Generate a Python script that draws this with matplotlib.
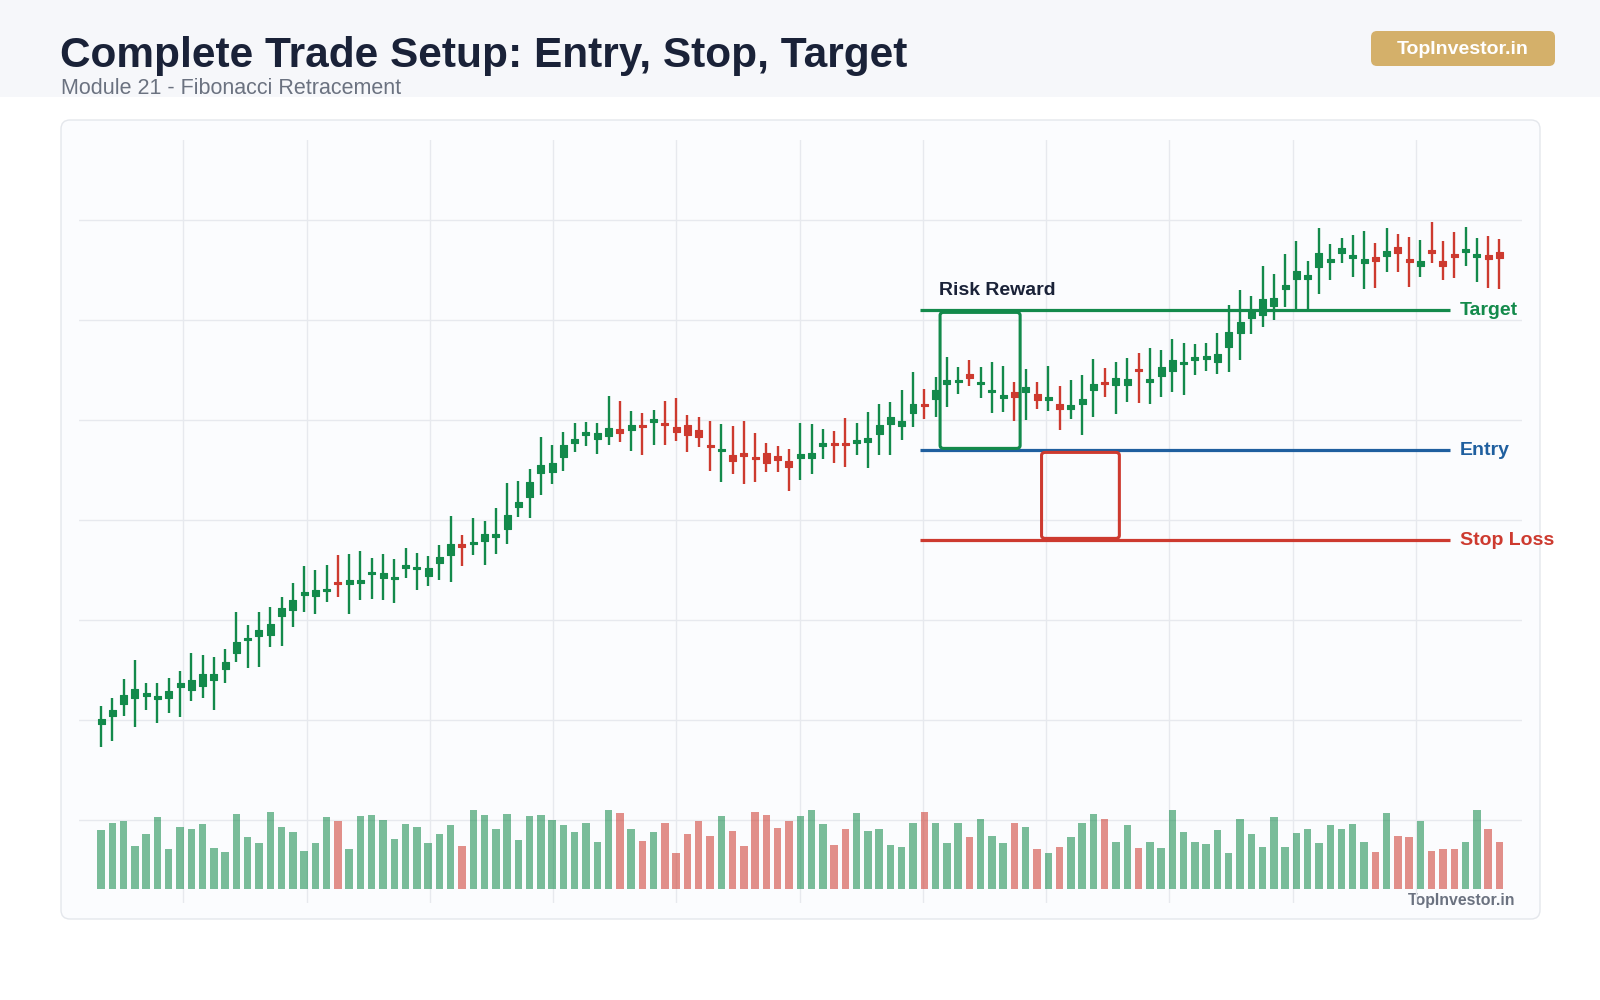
import matplotlib
matplotlib.use("Agg")
import matplotlib.pyplot as plt
from matplotlib.patches import FancyBboxPatch, Rectangle
import numpy as np

plt.rcParams['font.family'] = ['Liberation Sans', 'DejaVu Sans']

# ---------------- data ----------------
opens = [149.6, 150.4, 151.6, 152.2, 152.4, 152.15, 152.2, 153.3, 153.0, 153.4,
         154.0, 155.1, 156.7, 158.0, 158.4, 158.5, 160.4, 161.0, 162.5, 162.4,
         162.9, 163.75, 163.6, 163.7, 164.6, 164.2, 164.1, 165.2, 165.1, 164.4,
         165.7, 166.5, 167.45, 167.6, 167.9, 168.35, 169.1, 171.3, 172.3, 174.7,
         174.8, 176.3, 177.7, 178.5, 178.1, 178.4, 179.1, 179.0, 179.4, 179.85,
         179.6, 179.3, 179.5, 179.0, 177.45, 176.9, 176.5, 176.7, 176.2, 176.7,
         176.4, 175.9, 176.2, 176.2, 177.45, 177.6, 177.6, 177.7, 177.8, 178.6,
         179.6, 179.4, 180.7, 181.5, 182.1, 183.6, 183.8, 184.6, 183.6, 182.8,
         182.25, 182.8, 182.8, 182.6, 182.05, 181.6, 181.1, 181.6, 183.0, 183.7,
         183.5, 183.5, 185.0, 183.85, 184.45, 184.9, 185.6, 186.05, 186.1, 185.8,
         187.3, 188.7, 190.2, 190.5, 191.4, 193.1, 194.1, 194.1, 195.3, 195.85,
         196.7, 196.25, 195.7, 196.3, 196.4, 197.3, 195.9, 195.4, 196.8, 195.9,
         196.4, 196.85, 196.35, 196.5, 196.8]
highs = [151.4, 152.2, 154.1, 156.0, 153.7, 153.7, 154.2, 154.9, 156.7, 156.5,
         156.3, 157.1, 160.8, 159.5, 160.8, 161.3, 162.3, 163.7, 165.4, 165.0,
         165.5, 166.5, 166.6, 166.9, 166.2, 166.6, 166.1, 167.2, 166.7, 166.4,
         167.5, 170.4, 168.5, 170.2, 169.9, 171.2, 173.7, 173.9, 175.1, 178.3,
         177.5, 178.8, 179.7, 179.8, 179.7, 182.4, 181.9, 180.9, 180.7, 181.0,
         181.9, 182.2, 180.5, 180.3, 179.9, 179.6, 179.4, 179.9, 178.7, 177.7,
         177.4, 177.1, 179.7, 179.6, 179.1, 178.9, 180.2, 179.7, 180.8, 181.6,
         181.8, 183.0, 184.8, 183.1, 184.3, 186.3, 185.3, 186.0, 185.3, 185.8,
         185.4, 183.8, 185.1, 183.8, 185.4, 183.4, 184.0, 184.5, 186.1, 185.2,
         185.8, 186.2, 186.7, 187.2, 187.0, 188.1, 187.7, 187.6, 187.7, 188.7,
         191.5, 193.0, 192.4, 195.4, 194.6, 196.6, 197.9, 195.9, 199.2, 197.6,
         198.2, 198.5, 198.9, 197.7, 199.2, 198.6, 198.3, 198.0, 199.8, 197.9,
         198.8, 199.3, 198.2, 198.4, 198.1]
lows = [147.3, 147.9, 150.4, 149.3, 151.0, 149.7, 150.7, 150.3, 151.9, 152.2,
        151.0, 153.7, 155.8, 155.2, 155.3, 157.3, 157.4, 159.3, 160.8, 160.6,
        161.8, 162.3, 160.6, 162.0, 162.1, 162.0, 161.7, 164.2, 163.0, 163.4,
        164.0, 163.8, 165.4, 166.5, 165.5, 166.6, 167.6, 170.3, 170.2, 172.5,
        173.6, 174.9, 176.8, 177.4, 176.6, 177.5, 177.8, 176.9, 176.5, 177.5,
        177.5, 177.9, 176.8, 177.3, 174.9, 173.8, 174.6, 173.6, 173.8, 174.8,
        174.8, 172.9, 174.0, 174.6, 176.1, 175.7, 175.3, 176.5, 175.2, 176.5,
        176.5, 178.0, 179.3, 180.1, 180.3, 181.3, 182.6, 183.4, 182.2, 180.7,
        180.8, 179.9, 180.0, 181.1, 180.9, 179.0, 180.1, 178.5, 180.3, 182.3,
        180.6, 181.8, 181.7, 181.6, 182.3, 182.8, 182.5, 184.5, 184.9, 184.6,
        184.8, 186.0, 188.6, 189.3, 190.0, 191.3, 191.1, 191.1, 192.6, 194.0,
        195.7, 194.3, 193.1, 193.2, 194.8, 194.8, 193.3, 194.3, 195.7, 194.0,
        194.2, 195.4, 193.8, 193.2, 193.1]
closes = [150.1, 151.0, 152.5, 153.1, 152.7, 152.2, 152.9, 153.7, 154.0, 154.6,
          154.6, 155.8, 157.8, 158.1, 159.0, 159.6, 161.2, 162.0, 162.8, 163.0,
          163.0, 163.6, 164.0, 164.0, 164.7, 164.7, 164.15, 165.5, 165.15, 165.2,
          166.3, 167.6, 167.35, 167.7, 168.6, 168.4, 170.5, 171.8, 173.8, 175.5,
          175.7, 177.5, 178.1, 178.8, 178.7, 179.2, 178.7, 179.5, 179.3, 179.9,
          179.5, 178.8, 178.5, 178.3, 177.3, 177.0, 175.9, 176.4, 176.1, 175.7,
          176.0, 175.3, 176.6, 176.7, 177.5, 177.5, 177.5, 178.0, 178.2, 179.5,
          180.3, 179.9, 181.6, 181.4, 183.0, 184.0, 183.9, 184.2, 183.7, 182.9,
          182.3, 182.3, 183.3, 182.0, 182.1, 181.1, 181.5, 182.1, 183.6, 183.6,
          184.2, 184.1, 184.9, 183.9, 185.3, 186.0, 185.7, 186.15, 186.4, 186.6,
          188.8, 189.8, 190.9, 192.1, 192.2, 193.5, 194.9, 194.5, 196.7, 195.9,
          197.2, 196.3, 196.1, 195.9, 196.9, 196.7, 195.85, 195.9, 196.75, 195.4,
          196.35, 196.9, 196.4, 196.1, 196.2]
volumes = [590, 660, 680, 430, 550, 720, 400, 620, 600, 650,
           410, 370, 750, 520, 460, 770, 620, 570, 380, 460,
           720, 680, 400, 730, 740, 690, 500, 650, 620, 460,
           550, 640, 430, 790, 740, 600, 750, 490, 730, 740,
           690, 640, 570, 660, 470, 790, 760, 600, 480, 570,
           660, 360, 550, 680, 530, 730, 580, 430, 770, 740,
           610, 680, 730, 790, 650, 440, 600, 760, 580, 600,
           440, 420, 660, 770, 660, 460, 660, 520, 700, 530,
           460, 660, 620, 400, 360, 420, 520, 660, 750, 700,
           470, 640, 410, 470, 410, 790, 570, 470, 450, 590,
           360, 700, 550, 420, 720, 420, 560, 600, 460, 640,
           600, 650, 470, 370, 760, 530, 520, 680, 380, 400,
           400, 470, 790, 600, 470]

target_price = 191.0
entry_price = 177.0
stop_price = 168.0
level_labels = ["Target", "Entry", "Stop Loss"]
box_label = "Risk Reward"
title = "Complete Trade Setup: Entry, Stop, Target"
subtitle = "Module 21 - Fibonacci Retracement"
brand = "TopInvestor.in"

# ---------------- style ----------------
GREEN = "#138a4b"
RED = "#cd3a2f"
BLUE = "#1f5f9f"
NAVY = "#1a2238"
GRAY = "#6b7280"
GRID = "#e7e9ee"
CARD = "#fbfcfe"

fig = plt.figure(figsize=(16, 10), dpi=100)
fig.patch.set_facecolor("white")

# background layer in pixel coordinates
bg = fig.add_axes([0, 0, 1, 1], zorder=0)
bg.set_xlim(0, 1600)
bg.set_ylim(1000, 0)
bg.axis("off")
bg.add_patch(Rectangle((0, 0), 1600, 97, facecolor="#f6f7fa", edgecolor="none"))
bg.add_patch(FancyBboxPatch((61, 120), 1479, 799,
                            boxstyle="round,pad=0,rounding_size=9",
                            facecolor=CARD, edgecolor="#e4e7ec", linewidth=1.0))
bg.text(60, 67, title, fontsize=30.5, fontweight="bold", color=NAVY, va="baseline", ha="left")
bg.text(61, 94, subtitle, fontsize=15.5, color=GRAY, va="baseline", ha="left")
bg.add_patch(FancyBboxPatch((1371, 31), 184, 35,
                            boxstyle="round,pad=0,rounding_size=6",
                            facecolor="#d4b06a", edgecolor="none"))
bg.text(1463, 49.5, brand, fontsize=14, fontweight="bold", color="white",
        ha="center", va="center")
bg.text(1515, 901, brand, fontsize=11.4, fontweight="bold", color=GRAY,
        ha="right", va="center")

pos = [0.0491, 0.097, 0.9021, 0.763]
n = len(opens)
x = np.arange(n)

# price axes (bottom layer with grid)
ax = fig.add_axes(pos, zorder=1)
ax.set_facecolor("none")
ax.set_xlim(-2.0, 126.0)
ax.set_ylim(131.74, 208.04)
ax.set_xticks(np.linspace(7.3, 116.6, 11))
ax.set_yticks(np.arange(140, 201, 10))
ax.grid(True, color=GRID, linewidth=1.0)
ax.set_axisbelow(True)
ax.tick_params(length=0, labelbottom=False, labelleft=False)
for s in ax.spines.values():
    s.set_visible(False)

# volume axes (overlay)
axv = fig.add_axes(pos, zorder=2, sharex=ax)
axv.set_facecolor("none")
axv.set_ylim(-145, 7485)
axv.axis("off")

o = np.array(opens); h = np.array(highs); l = np.array(lows); c = np.array(closes)
up = c >= o
cols = [GREEN if u else RED for u in up]

axv.bar(x, volumes, width=0.66, color=cols, alpha=0.56, linewidth=0)

ax.vlines(x, l, h, colors=cols, linewidth=1.7, zorder=3)
body_bottom = np.minimum(o, c)
body_h = np.maximum(np.abs(c - o), 0.25)
ax.bar(x, body_h, bottom=body_bottom, width=0.62, color=cols, edgecolor=cols,
       linewidth=0.8, joinstyle="round", zorder=4)

# trade levels
x0, x1 = 72.6, 119.6
ax.hlines(target_price, x0, x1, color=GREEN, linewidth=2.3, zorder=6)
ax.hlines(entry_price, x0, x1, color=BLUE, linewidth=2.3, zorder=6)
ax.hlines(stop_price, x0, x1, color=RED, linewidth=2.3, zorder=6)
ax.text(120.5, target_price, level_labels[0], color=GREEN, fontsize=14,
        fontweight="bold", va="center", ha="left", zorder=7)
ax.text(120.5, entry_price, level_labels[1], color=BLUE, fontsize=14,
        fontweight="bold", va="center", ha="left", zorder=7)
ax.text(120.5, stop_price, level_labels[2], color=RED, fontsize=14,
        fontweight="bold", va="center", ha="left", zorder=7)

# reward and risk boxes
ax.add_patch(FancyBboxPatch((74.4, entry_price + 0.2), 81.5 - 74.4,
                            target_price - entry_price - 0.4,
                            boxstyle="round,pad=0,rounding_size=0.3",
                            facecolor="none", edgecolor=GREEN, linewidth=2.2, zorder=6))
ax.add_patch(FancyBboxPatch((83.4, stop_price + 0.2), 90.3 - 83.4,
                            entry_price - stop_price - 0.4,
                            boxstyle="round,pad=0,rounding_size=0.3",
                            facecolor="none", edgecolor=RED, linewidth=2.2, zorder=6))
ax.text(74.3, 193.0, box_label, color=NAVY, fontsize=14, fontweight="bold",
        va="center", ha="left", zorder=7)

fig.savefig("out.png", dpi=100)
